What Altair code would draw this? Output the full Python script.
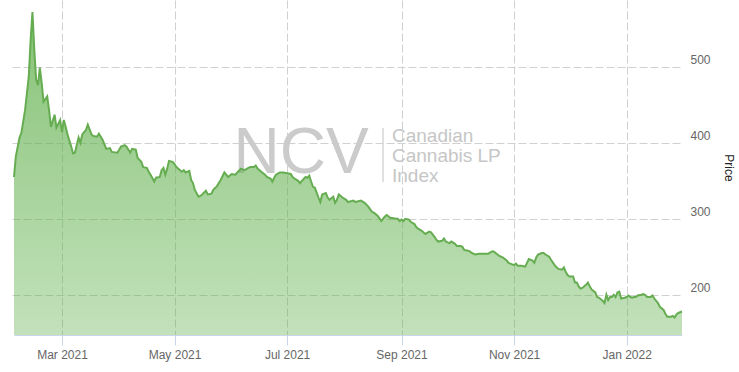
import altair as alt
import pandas as pd

# ---- data ----
BASE_DATE = "2021-03-01"
days_from_base = [
    -26, -25, -23, -22, -20, -18, -17, -16, -15, -14, -13, -12, -11, -10, -8, -7, -6, -4, -3, -1,
    0, 1, 2, 3, 5, 6, 7, 9, 10, 11, 13, 14, 16, 17, 19, 20, 22, 24, 26, 27,
    30, 32, 34, 35, 37, 38, 40, 41, 43, 44, 46, 47, 48, 50, 51, 53, 54, 55, 56, 57,
    58, 60, 61, 62, 64, 65, 66, 67, 69, 70, 71, 72, 74, 75, 76, 78, 79, 81, 82, 84,
    86, 88, 90, 92, 94, 95, 97, 99, 101, 102, 104, 105, 106, 108, 110, 111, 113, 114, 115, 116,
    118, 120, 122, 124, 125, 126, 128, 129, 130, 132, 133, 134, 135, 136, 137, 139, 140, 141, 143, 144,
    145, 147, 148, 149, 150, 152, 154, 155, 158, 159, 162, 164, 166, 168, 169, 171, 172, 173, 175, 176,
    178, 179, 181, 182, 183, 184, 185, 186, 188, 189, 191, 192, 193, 195, 196, 197, 199, 200, 202, 203,
    204, 206, 207, 208, 210, 211, 213, 214, 216, 217, 218, 220, 221, 222, 224, 226, 227, 229, 231, 233,
    234, 235, 237, 238, 239, 241, 242, 243, 245, 246, 247, 249, 251, 252, 253, 255, 256, 257, 258, 260,
    261, 262, 264, 265, 267, 268, 269, 271, 272, 273, 274, 275, 277, 278, 279, 280, 281, 282, 284, 285,
    286, 287, 289, 290, 291, 293, 294, 295, 296, 297, 298, 299, 300, 301, 302, 303, 305, 306, 307, 308,
    309, 310, 311, 312, 314, 315, 316, 317, 319, 320, 321, 323, 324, 326, 327, 328, 330, 331, 332, 333,
    334, 336,
]
prices = [
    355, 382, 407, 413, 443, 487, 535, 572, 522, 483, 476, 499, 479, 454, 461, 443, 421, 437, 420, 430,
    414, 430, 421, 411, 395, 386, 387, 407, 400, 411, 417, 424, 411, 409, 408, 412, 404, 392, 393, 388,
    387, 395, 397, 395, 387, 392, 391, 380, 375, 368, 367, 362, 358, 349, 354, 355, 364, 367, 358, 366,
    376, 375, 372, 368, 364, 362, 364, 361, 363, 351, 347, 338, 329, 330, 332, 337, 332, 333, 338, 343,
    351, 361, 355, 359, 358, 361, 366, 364, 367, 368, 368, 370, 366, 362, 358, 355, 353, 349, 354, 358,
    361, 361, 360, 359, 355, 353, 350, 347, 350, 355, 354, 357, 349, 342, 341, 328, 322, 332, 334, 328,
    325, 329, 321, 325, 332, 328, 325, 322, 324, 322, 324, 321, 316, 309, 308, 304, 301, 297, 303, 305,
    301, 301, 300, 300, 297, 299, 297, 300, 299, 296, 293, 289, 287, 284, 282, 280, 283, 282, 276, 272,
    270, 271, 274, 270, 268, 270, 267, 264, 264, 263, 259, 258, 257, 255, 253, 254, 254, 254, 254, 257,
    257, 255, 251, 250, 249, 245, 242, 241, 239, 241, 238, 238, 237, 242, 247, 245, 242, 249, 253, 255,
    255, 253, 250, 246, 239, 236, 234, 233, 236, 230, 226, 224, 224, 216, 216, 211, 208, 209, 213, 216,
    211, 207, 203, 197, 196, 192, 189, 200, 193, 197, 197, 200, 197, 203, 204, 195, 196, 197, 199, 197,
    196, 197, 197, 199, 200, 201, 200, 197, 197, 199, 195, 189, 184, 180, 175, 171, 171, 172, 170, 174,
    176, 178,
]
x_tick_dates = [(2021, 3, 1), (2021, 5, 1), (2021, 7, 1), (2021, 9, 1), (2021, 11, 1), (2022, 1, 1)]
y_ticks = [200, 300, 400, 500]
watermark_big = ["NCV"]
watermark_lines = ["Canadian", "Cannabis LP", "Index"]

# ---- table ----
dates = pd.Timestamp(BASE_DATE) + pd.to_timedelta(days_from_base, unit="D")
df = pd.DataFrame({"date": dates.strftime("%Y-%m-%dT00:00:00"), "price": prices})


def dt(y, m, d):
    return alt.DateTime(year=y, month=m, date=d)


FONT = "Liberation Sans"
GRID = "#d0d0d0"

x_enc = alt.X(
    "date:T",
    scale=alt.Scale(domain=[dt(2021, 2, 3), dt(2022, 1, 31)], range=[6, 674], nice=False),
    axis=alt.Axis(
        values=[dt(*t) for t in x_tick_dates],
        format="%b %Y",
        title=None,
        grid=True,
        gridDash=[8, 3],
        gridColor=GRID,
        domainColor="#ccd6eb",
        tickColor="#ccd6eb",
        tickSize=10,
        labelPadding=4,
        labelColor="#666666",
        labelFontSize=12,
        labelFont=FONT,
    ),
)
y_enc = alt.Y(
    "price:Q",
    scale=alt.Scale(domain=[147, 588], nice=False, zero=False),
    axis=alt.Axis(
        orient="right",
        values=y_ticks,
        grid=True,
        gridDash=[8, 3],
        gridColor=GRID,
        ticks=False,
        domain=False,
        labelAlign="left",
        labelBaseline="bottom",
        labelPadding=4,
        labelColor="#666666",
        labelFontSize=12,
        labelFont=FONT,
        title="Price",
        titleX=42,
        titleY=167.5,
        titleAngle=90,
        titleAlign="center",
        titleBaseline="middle",
        titleFontWeight="normal",
        titleFontSize=12,
        titleFont=FONT,
        titleColor="#222222",
    ),
)

base = alt.Chart(df)

area = base.mark_area(
    clip=True,
    color=alt.Gradient(
        gradient="linear",
        stops=[
            alt.GradientStop(color="rgba(100,178,80,0.78)", offset=0),
            alt.GradientStop(color="rgba(100,178,80,0.25)", offset=1),
        ],
        x1=1, x2=1, y1=0, y2=1,
    ),
).encode(x=x_enc, y=y_enc)

line = base.mark_line(color="#66ad52", strokeWidth=2, clip=True).encode(x=x_enc, y=y_enc)

wm_big = alt.Chart(pd.DataFrame({"t": watermark_big})).mark_text(
    font=FONT, fontSize=64, color="#cbcbcb", align="center", baseline="alphabetic"
).encode(x=alt.value(293), y=alt.value(173), text="t:N")

wm_sep = alt.Chart(pd.DataFrame({"t": watermark_big})).mark_rule(
    color="#d6d6d6", strokeWidth=1.5
).encode(x=alt.value(375), y=alt.value(128), y2=alt.value(182))

wm_lines = [
    alt.Chart(pd.DataFrame({"t": [txt]})).mark_text(
        font=FONT, fontSize=19, color="#c6c6c6", align="left", baseline="alphabetic"
    ).encode(x=alt.value(384), y=alt.value(142 + 20 * i), text="t:N")
    for i, txt in enumerate(watermark_lines)
]

chart = alt.layer(wm_big, wm_sep, *wm_lines, area, line).properties(
    width=678,
    height=335,
    padding={"left": 8, "top": 0, "right": 53, "bottom": 37},
    autosize=alt.AutoSizeParams(type="none"),
).configure_view(stroke=None)

chart.save("out.html", embed_options={"renderer": "svg", "actions": False})
